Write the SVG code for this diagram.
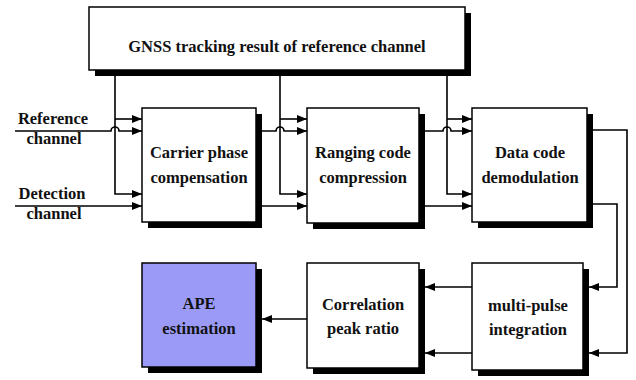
<svg xmlns="http://www.w3.org/2000/svg" width="636" height="380" viewBox="0 0 636 380">
<defs>
<style>
.box{fill:#fff;stroke:#000;stroke-width:1.5}
.ape{fill:#9b9bf7;stroke:#000;stroke-width:1.5}
.sh{fill:#000}
.t{font-family:"Liberation Serif","Times New Roman",serif;font-weight:bold;font-size:16.5px;fill:#111;text-anchor:middle}
.c{fill:none;stroke:#000;stroke-width:1.6}
</style>
<marker id="ah" viewBox="0 0 10 8" refX="10" refY="4" markerWidth="10" markerHeight="8" markerUnits="userSpaceOnUse" orient="auto">
<path d="M0,0 L10,4 L0,8 Z" fill="#000"/>
</marker>
</defs>
<rect width="636" height="380" fill="#fff"/>
<g id="gnss">
<rect class="sh" x="95" y="13" width="376" height="63"/>
<rect class="box" x="89" y="7" width="376" height="63"/>
<text class="t" x="277" y="52">GNSS tracking result of reference channel</text>
</g>
<g id="labels">
<text class="t" x="53" y="124">Reference</text>
<text class="t" x="54" y="144">channel</text>
<text class="t" x="52" y="199">Detection</text>
<text class="t" x="54" y="219">channel</text>
</g>
<g id="carrier">
<rect class="sh" x="148" y="114" width="114" height="114"/>
<rect class="box" x="142" y="108" width="114" height="114"/>
<text class="t" x="199" y="158">Carrier phase</text>
<text class="t" x="199" y="183">compensation</text>
</g>
<g id="ranging">
<rect class="sh" x="313" y="114" width="112" height="115"/>
<rect class="box" x="307" y="108" width="112" height="115"/>
<text class="t" x="363" y="158">Ranging code</text>
<text class="t" x="363" y="183">compression</text>
</g>
<g id="datacode">
<rect class="sh" x="478" y="114" width="115" height="114"/>
<rect class="box" x="472" y="108" width="115" height="114"/>
<text class="t" x="530" y="158">Data code</text>
<text class="t" x="530" y="183">demodulation</text>
</g>
<g id="multipulse">
<rect class="sh" x="478" y="269" width="111" height="107"/>
<rect class="box" x="472" y="263" width="111" height="107"/>
<text class="t" x="528" y="311">multi-pulse</text>
<text class="t" x="528" y="335">integration</text>
</g>
<g id="correlation">
<rect class="sh" x="313" y="269" width="112" height="105"/>
<rect class="box" x="307" y="263" width="112" height="105"/>
<text class="t" x="363" y="310">Correlation</text>
<text class="t" x="363" y="334">peak ratio</text>
</g>
<g id="ape">
<rect class="sh" x="148" y="269" width="114" height="104"/>
<rect class="ape" x="142" y="263" width="114" height="104"/>
<text class="t" x="199" y="309">APE</text>
<text class="t" x="199" y="334">estimation</text>
</g>
<g id="connectors">
<!-- stage 1 -->
<path class="c" d="M115,76 V194 H142" marker-end="url(#ah)"/>
<path class="c" d="M115,119 H142" marker-end="url(#ah)"/>
<path class="c" d="M15,131 H111 A4,4 0 0 1 119,131 H142" marker-end="url(#ah)"/>
<path class="c" d="M15,206 H142" marker-end="url(#ah)"/>
<!-- stage 2 -->
<path class="c" d="M280,76 V194 H307" marker-end="url(#ah)"/>
<path class="c" d="M280,119 H307" marker-end="url(#ah)"/>
<path class="c" d="M262,131 H276 A4,4 0 0 1 284,131 H307" marker-end="url(#ah)"/>
<path class="c" d="M262,206 H307" marker-end="url(#ah)"/>
<!-- stage 3 -->
<path class="c" d="M447,76 V194 H472" marker-end="url(#ah)"/>
<path class="c" d="M447,119 H472" marker-end="url(#ah)"/>
<path class="c" d="M425,131 H443 A4,4 0 0 1 451,131 H472" marker-end="url(#ah)"/>
<path class="c" d="M425,206 H472" marker-end="url(#ah)"/>
<!-- data code to multi-pulse -->
<path class="c" d="M593,130 H627 V353 H589" marker-end="url(#ah)"/>
<path class="c" d="M593,204 H617 V287 H589" marker-end="url(#ah)"/>
<!-- multi-pulse to correlation -->
<path class="c" d="M472,287 H425" marker-end="url(#ah)"/>
<path class="c" d="M472,353 H425" marker-end="url(#ah)"/>
<!-- correlation to APE -->
<path class="c" d="M307,319 H262" marker-end="url(#ah)"/>
</g>
</svg>
